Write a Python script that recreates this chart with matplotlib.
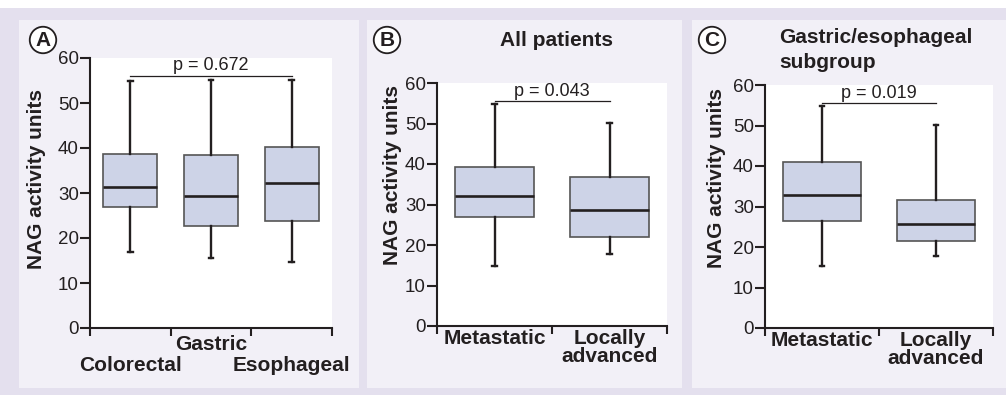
import matplotlib
matplotlib.use("Agg")
import matplotlib.pyplot as plt
from matplotlib.patches import Rectangle

plt.rcParams['font.family'] = ['Liberation Sans', 'DejaVu Sans']

# panel A: cancer type
a_labels = ['Colorectal', 'Gastric', 'Esophageal']
a_whislo = [17.0, 15.6, 14.7]
a_q1 = [27.0, 22.7, 23.7]
a_med = [31.4, 29.4, 32.3]
a_q3 = [38.7, 38.4, 40.2]
a_whishi = [55.0, 55.1, 55.2]
a_p = 'p = 0.672'
a_pline = 56.0

# panel B: all patients
b_labels = ['Metastatic', 'Locally\nadvanced']
b_whislo = [14.8, 17.7]
b_q1 = [26.9, 22.0]
b_med = [32.0, 28.6]
b_q3 = [39.3, 36.7]
b_whishi = [54.8, 50.1]
b_p = 'p = 0.043'
b_pline = 55.5

# panel C: gastric/esophageal subgroup
c_labels = ['Metastatic', 'Locally\nadvanced']
c_whislo = [15.4, 17.8]
c_q1 = [26.5, 21.4]
c_med = [32.9, 25.7]
c_q3 = [40.9, 31.6]
c_whishi = [54.8, 50.1]
c_p = 'p = 0.019'
c_pline = 55.5

yticks = [0, 10, 20, 30, 40, 50, 60]

W, H = 1006, 395
fig = plt.figure(figsize=(W / 100, H / 100), dpi=100)
fig.patch.set_facecolor('white')

outer = '#e4e0ee'
inner = '#f2f0f7'
txt = '#231f20'


def px_rect(x0, y0, x1, y1, color):
    fig.patches.append(Rectangle((x0 / W, 1 - y1 / H), (x1 - x0) / W, (y1 - y0) / H,
                                 transform=fig.transFigure, facecolor=color,
                                 edgecolor='none', zorder=-10))


px_rect(0, 8, W, H, outer)
px_rect(19, 20, 359, 388, inner)
px_rect(367, 20, 682, 388, inner)
px_rect(692, 20, W, 388, inner)


def make_ax(x0, y0, x1, y1):
    return fig.add_axes([x0 / W, 1 - y1 / H, (x1 - x0) / W, (y1 - y0) / H])


def draw_panel(ax, labels, whislo, q1, med, q3, whishi, ptext, pline, width, capw, label_offsets):
    stats = []
    for i in range(len(labels)):
        stats.append(dict(whislo=whislo[i], q1=q1[i], med=med[i], q3=q3[i], whishi=whishi[i], fliers=[]))
    n = len(labels)
    pos = list(range(1, n + 1))
    ax.bxp(stats, positions=pos, widths=width, capwidths=capw, patch_artist=True, showfliers=False,
           boxprops=dict(facecolor='#cdd3e7', edgecolor='#555555', linewidth=1.2),
           medianprops=dict(color=txt, linewidth=1.9),
           whiskerprops=dict(color=txt, linewidth=1.7),
           capprops=dict(color=txt, linewidth=1.7))
    ax.set_xlim(0.5, n + 0.5)
    ax.set_ylim(0, 60)
    ax.set_facecolor('white')
    for s in ['top', 'right']:
        ax.spines[s].set_visible(False)
    for s in ['left', 'bottom']:
        ax.spines[s].set_linewidth(1.5)
        ax.spines[s].set_color(txt)
    ax.set_yticks(yticks)
    ax.tick_params(axis='y', direction='out', length=7, width=1.5, colors=txt,
                   labelsize=13.5, pad=1)
    ax.set_xticks([p + 0.5 for p in [0] + pos])
    ax.set_xticklabels([])
    ax.tick_params(axis='x', direction='out', length=6, width=1.5, colors=txt)
    for p, lab, off in zip(pos, labels, label_offsets):
        ax.annotate(lab, xy=(p, 0), xycoords=('data', 'axes fraction'),
                    xytext=(0, -off), textcoords='offset points',
                    ha='center', va='top', fontsize=15, fontweight='bold',
                    color=txt, linespacing=0.95, annotation_clip=False)
    ax.plot([pos[0], pos[-1]], [pline, pline], color=txt, linewidth=0.9, clip_on=False)
    ax.annotate(ptext, xy=((pos[0] + pos[-1]) / 2, pline), xytext=(0, 4),
                textcoords='offset points', ha='center', va='baseline',
                fontsize=13, color=txt, annotation_clip=False)


ax_a = make_ax(90, 58, 332, 328)
draw_panel(ax_a, a_labels, a_whislo, a_q1, a_med, a_q3, a_whishi, a_p, a_pline,
           0.67, 0.06, [20, 5, 20])
ax_b = make_ax(437, 83, 667, 326)
draw_panel(ax_b, b_labels, b_whislo, b_q1, b_med, b_q3, b_whishi, b_p, b_pline,
           0.68, 0.04, [2, 2])
ax_c = make_ax(765, 85, 993, 328)
draw_panel(ax_c, c_labels, c_whislo, c_q1, c_med, c_q3, c_whishi, c_p, c_pline,
           0.68, 0.04, [2, 2])

# y axis titles
for x, y in [(37, 179), (392, 175), (717, 178)]:
    fig.text(x / W, 1 - y / H, 'NAG activity units', rotation=90, ha='center', va='center',
             fontsize=15, fontweight='bold', color=txt)

# panel letters
for x, y, letter in [(43, 40, 'A'), (387, 40, 'B'), (712, 40, 'C')]:
    fig.text(x / W, 1 - y / H, letter, ha='center', va='center', fontsize=15,
             fontweight='bold', color=txt,
             bbox=dict(boxstyle='circle,pad=0.18', facecolor='white', edgecolor=txt, linewidth=1.3))

fig.text(557 / W, 1 - 40 / H, 'All patients', ha='center', va='center',
         fontsize=15, fontweight='bold', color=txt)
fig.text(779 / W, 1 - 50 / H, 'Gastric/esophageal\nsubgroup', ha='left', va='center',
         fontsize=15, fontweight='bold', color=txt, linespacing=1.35)

fig.savefig('out.png', dpi=100, facecolor=fig.get_facecolor())
